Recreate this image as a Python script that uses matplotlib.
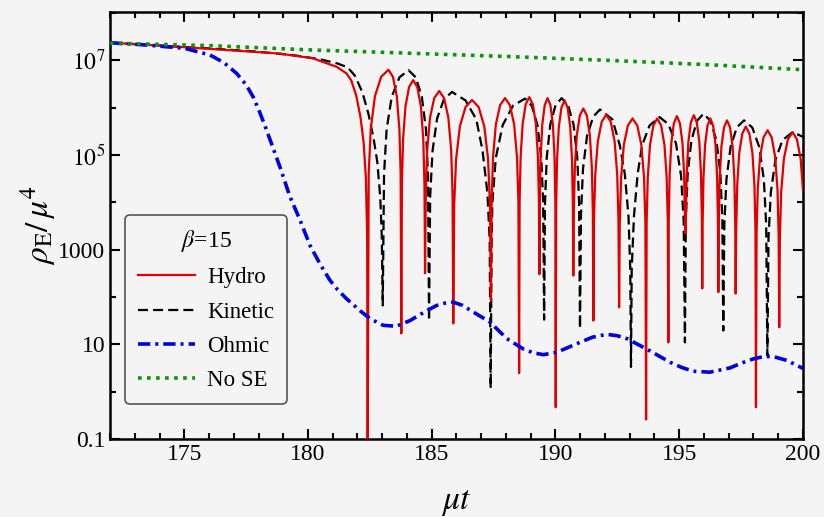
import numpy as np
import matplotlib
matplotlib.use("Agg")
import matplotlib.pyplot as plt
from matplotlib.ticker import FixedLocator, NullFormatter

plt.rcParams['font.family'] = ['Liberation Serif', 'DejaVu Serif']
plt.rcParams['mathtext.fontset'] = 'stix'

# values: time mu*t and log10(rho_E / mu^4)
hydro_t = [172.0, 174.0, 176.0, 178.0, 178.87, 180.2, 181.16, 181.56, 181.75, 181.95, 182.12, 182.25, 182.34, 182.39, 182.41,
           182.452, 182.536, 182.704, 182.956, 183.25, 183.432, 183.588, 183.692, 183.744, 183.77,
           183.794, 183.842, 183.938, 184.082, 184.25, 184.418, 184.562, 184.658, 184.706, 184.73,
           184.759, 184.816, 184.930, 185.101, 185.30, 185.499, 185.670, 185.785, 185.842, 185.87,
           185.908, 185.984, 186.136, 186.364, 186.63, 186.896, 187.124, 187.276, 187.352, 187.39,
           187.419, 187.476, 187.590, 187.761, 187.96, 188.159, 188.331, 188.445, 188.502, 188.53,
           188.551, 188.592, 188.674, 188.797, 188.94, 189.084, 189.207, 189.289, 189.330, 189.35,
           189.367, 189.400, 189.466, 189.565, 189.68, 189.796, 189.895, 189.961, 189.994, 190.01,
           190.028, 190.063, 190.134, 190.241, 190.365, 190.489, 190.596, 190.667, 190.702, 190.72,
           190.740, 190.781, 190.862, 190.983, 191.125, 191.267, 191.388, 191.469, 191.510, 191.53,
           191.556, 191.608, 191.712, 191.868, 192.05, 192.232, 192.388, 192.492, 192.544, 192.57,
           192.597, 192.652, 192.761, 192.924, 193.115, 193.306, 193.469, 193.578, 193.633, 193.66,
           193.683, 193.728, 193.818, 193.953, 194.11, 194.268, 194.403, 194.493, 194.538, 194.56,
           194.577, 194.612, 194.681, 194.784, 194.905, 195.026, 195.129, 195.198, 195.233, 195.25,
           195.267, 195.301, 195.369, 195.471, 195.59, 195.709, 195.811, 195.879, 195.913, 195.93,
           195.946, 195.979, 196.044, 196.141, 196.255, 196.369, 196.466, 196.531, 196.564, 196.58,
           196.598, 196.633, 196.703, 196.808, 196.93, 197.053, 197.158, 197.228, 197.263, 197.28,
           197.301, 197.342, 197.424, 197.547, 197.69, 197.834, 197.957, 198.039, 198.080, 198.10,
           198.124, 198.171, 198.265, 198.406, 198.57, 198.735, 198.876, 198.970, 199.017, 199.04,
           199.067, 199.121, 199.229, 199.391, 199.58, 199.755, 199.905, 200.0]
hydro_log = [7.37, 7.31, 7.24, 7.17, 7.14, 7.04, 6.86, 6.72, 6.57, 6.25, 5.80, 5.25, 4.5, 3.3, -1.5,
             4.60, 5.55, 6.24, 6.65, 6.80, 6.65, 6.24, 5.55, 4.60, 1.23,
             4.38, 5.33, 6.02, 6.43, 6.58, 6.43, 6.02, 5.33, 4.38, 2.50,
             4.15, 5.10, 5.79, 6.20, 6.35, 6.20, 5.79, 5.10, 4.15, 1.44,
             3.96, 4.91, 5.60, 6.01, 6.16, 6.01, 5.60, 4.91, 3.96, 1.93,
             4.00, 4.95, 5.64, 6.05, 6.20, 6.05, 5.64, 4.95, 4.00, 0.39,
             4.02, 4.97, 5.66, 6.07, 6.22, 6.07, 5.66, 4.97, 4.02, 2.48,
             4.00, 4.95, 5.64, 6.05, 6.20, 6.05, 5.64, 4.95, 4.00, -0.33,
             3.95, 4.90, 5.59, 6.00, 6.15, 6.00, 5.59, 4.90, 3.95, 2.45,
             3.78, 4.73, 5.42, 5.83, 5.98, 5.83, 5.42, 4.73, 3.78, 1.50,
             3.65, 4.60, 5.29, 5.70, 5.85, 5.70, 5.29, 4.60, 3.65, 1.78,
             3.57, 4.52, 5.21, 5.62, 5.77, 5.62, 5.21, 4.52, 3.57, -0.59,
             3.57, 4.52, 5.21, 5.62, 5.77, 5.62, 5.21, 4.52, 3.57, 1.04,
             3.62, 4.57, 5.26, 5.67, 5.82, 5.67, 5.26, 4.57, 3.62, 3.34,
             3.64, 4.59, 5.28, 5.69, 5.84, 5.69, 5.28, 4.59, 3.64, 2.18,
             3.57, 4.52, 5.21, 5.62, 5.77, 5.62, 5.21, 4.52, 3.57, 2.10,
             3.53, 4.48, 5.17, 5.58, 5.73, 5.58, 5.17, 4.48, 3.53, 2.07,
             3.40, 4.35, 5.04, 5.45, 5.60, 5.45, 5.04, 4.35, 3.40, -0.33,
             3.32, 4.27, 4.96, 5.37, 5.52, 5.37, 4.96, 4.27, 3.32, 1.36,
             3.28, 4.23, 4.92, 5.33, 5.48, 5.33, 4.92, 4.25]

kinetic_t = [172.0, 174.0, 176.0, 178.0, 179.5, 180.5, 181.2, 181.6, 181.9, 182.2, 182.45, 182.65, 182.8, 182.92, 182.98, 183.02,
             183.072, 183.176, 183.384, 183.696, 184.06, 184.351, 184.600, 184.766, 184.849, 184.89,
             184.937, 185.030, 185.216, 185.495, 185.82, 186.366, 186.8, 187.05, 187.25, 187.34, 187.38,
             187.42, 187.45, 187.589, 187.867, 188.284, 188.77, 189.040, 189.271, 189.425, 189.502, 189.54,
             189.576, 189.647, 189.789, 190.002, 190.25, 190.509, 190.731, 190.879, 190.953, 190.99,
             191.031, 191.112, 191.274, 191.527, 191.8, 192.3, 192.6, 192.8, 192.95, 193.02, 193.05,
             193.08, 193.17, 193.32, 193.5, 193.8, 194.2, 194.561, 194.870, 195.076, 195.179, 195.23,
             195.268, 195.343, 195.493, 195.718, 195.98, 196.26, 196.50, 196.66, 196.74, 196.78,
             196.822, 196.906, 197.074, 197.326, 197.62, 197.949, 198.231, 198.419, 198.513, 198.56,
             198.607, 198.701, 198.889, 199.171, 199.55, 199.8, 200.0]
kinetic_log = [7.37, 7.31, 7.25, 7.18, 7.10, 7.02, 6.93, 6.85, 6.67, 6.32, 5.85, 5.35, 4.85, 4.1, 3.3, 1.82,
               4.59, 5.54, 6.23, 6.64, 6.79, 6.64, 6.23, 5.54, 4.59, 1.50,
               4.13, 5.08, 5.77, 6.18, 6.33, 6.15, 5.75, 5.1, 4.2, 3.2, 0.07,
               3.2, 3.99, 4.94, 5.63, 6.04, 6.19, 6.04, 5.63, 4.94, 3.99, 1.52,
               4.00, 4.95, 5.64, 6.05, 6.20, 6.05, 5.64, 4.95, 4.00, 1.33,
               3.76, 4.71, 5.40, 5.81, 5.96, 5.75, 5.2, 4.6, 3.7, 2.6, 0.52,
               2.6, 3.7, 4.6, 5.2, 5.62, 5.80, 5.65, 5.24, 4.55, 3.60, 1.04,
               3.67, 4.62, 5.31, 5.72, 5.87, 5.72, 5.31, 4.62, 3.67, 1.29,
               3.53, 4.48, 5.17, 5.58, 5.73, 5.58, 5.17, 4.48, 3.53, 0.76,
               3.26, 4.21, 4.90, 5.31, 5.47, 5.43, 5.38]

ohmic_t = [172.0, 173.5, 175.03, 176.04, 176.6, 177.12, 177.5, 177.79, 178.05, 178.33, 178.6, 178.87,
           179.27, 179.68, 180.08, 180.48, 180.89, 181.2, 181.56, 182.10, 182.51, 183.04, 183.58,
           184.12, 184.80, 185.20, 185.54, 185.87, 186.25, 186.68, 187.35, 188.03, 188.70, 189.1,
           189.51, 190.05, 190.5, 190.99, 191.5, 192.07, 192.5, 192.88, 193.68, 194.63, 195.1,
           195.57, 196.24, 197.05, 197.5, 197.99, 198.4, 198.80, 199.34, 200.0]
ohmic_log = [7.37, 7.32, 7.25, 7.11, 6.95, 6.72, 6.48, 6.22, 5.90, 5.52, 5.13, 4.74,
             4.12, 3.62, 3.09, 2.70, 2.35, 2.15, 1.96, 1.71, 1.54, 1.40, 1.38,
             1.50, 1.71, 1.82, 1.87, 1.89, 1.82, 1.68, 1.47, 1.12, 0.90, 0.82,
             0.78, 0.83, 0.93, 1.04, 1.15, 1.21, 1.18, 1.12, 0.90, 0.62, 0.51,
             0.43, 0.41, 0.50, 0.60, 0.69, 0.74, 0.74, 0.66, 0.49]

nose_t = [172.0, 176.0, 180.0, 184.0, 188.0, 192.0, 196.0, 200.0]
nose_log = [7.36, 7.31, 7.22, 7.15, 7.08, 7.0, 6.91, 6.80]

bg = '#f4f4f4'
fig = plt.figure(figsize=(8.24, 5.17), dpi=100, facecolor=bg)
ax = fig.add_axes([0.1335, 0.151, 0.841, 0.826], facecolor=bg)

ax.plot(hydro_t, 10 ** np.array(hydro_log), color='#e00000', lw=1.6, label='Hydro', zorder=3)
ax.plot(kinetic_t, 10 ** np.array(kinetic_log), color='black', lw=1.6,
        ls=(0, (4.5, 2.3)), label='Kinetic', zorder=2)
ax.plot(ohmic_t, 10 ** np.array(ohmic_log), color='#0000dd', lw=2.6,
        ls=(0, (3.4, 1.4, 0.8, 1.4)), label='Ohmic', zorder=4)
ax.plot(nose_t, 10 ** np.array(nose_log), color='#0a960a', lw=2.6,
        ls=(0, (1.0, 1.5)), label='No SE', zorder=5)

ax.set_yscale('log')
ax.set_xlim(172, 200)
ax.set_ylim(0.1, 1.05e8)

ax.set_xticks([175, 180, 185, 190, 195, 200])
ax.set_xticks(np.arange(172, 201, 1), minor=True)
ax.yaxis.set_major_locator(FixedLocator([0.1, 10, 1000, 1e5, 1e7]))
ax.yaxis.set_minor_locator(FixedLocator([1, 100, 1e4, 1e6, 1e8]))
ax.yaxis.set_minor_formatter(NullFormatter())
ax.set_yticklabels(['0.1', '10', '1000', r'$10^5$', r'$10^7$'])

ax.tick_params(which='both', direction='in', top=True, right=True, labelsize=17, width=1.5)
ax.tick_params(which='major', length=7)
ax.tick_params(which='minor', length=4)
for s in ax.spines.values():
    s.set_linewidth(1.8)

ax.set_xlabel(r'$\mu t$', fontsize=24, labelpad=16)
ax.set_ylabel(r'$\rho_{\rm E}/\,\mu^4$', fontsize=24, labelpad=0)

leg = ax.legend(loc='lower left', bbox_to_anchor=(0.0216, 0.082), borderaxespad=0,
                title=r'$\beta$=15', fontsize=16.5, title_fontsize=17, fancybox=True,
                framealpha=1, facecolor=bg, edgecolor='#555555', handlelength=2.5,
                handletextpad=0.55, borderpad=0.55, labelspacing=0.58)
leg.get_frame().set_linewidth(1.2)

fig.savefig('out.png', dpi=100, facecolor=bg)
